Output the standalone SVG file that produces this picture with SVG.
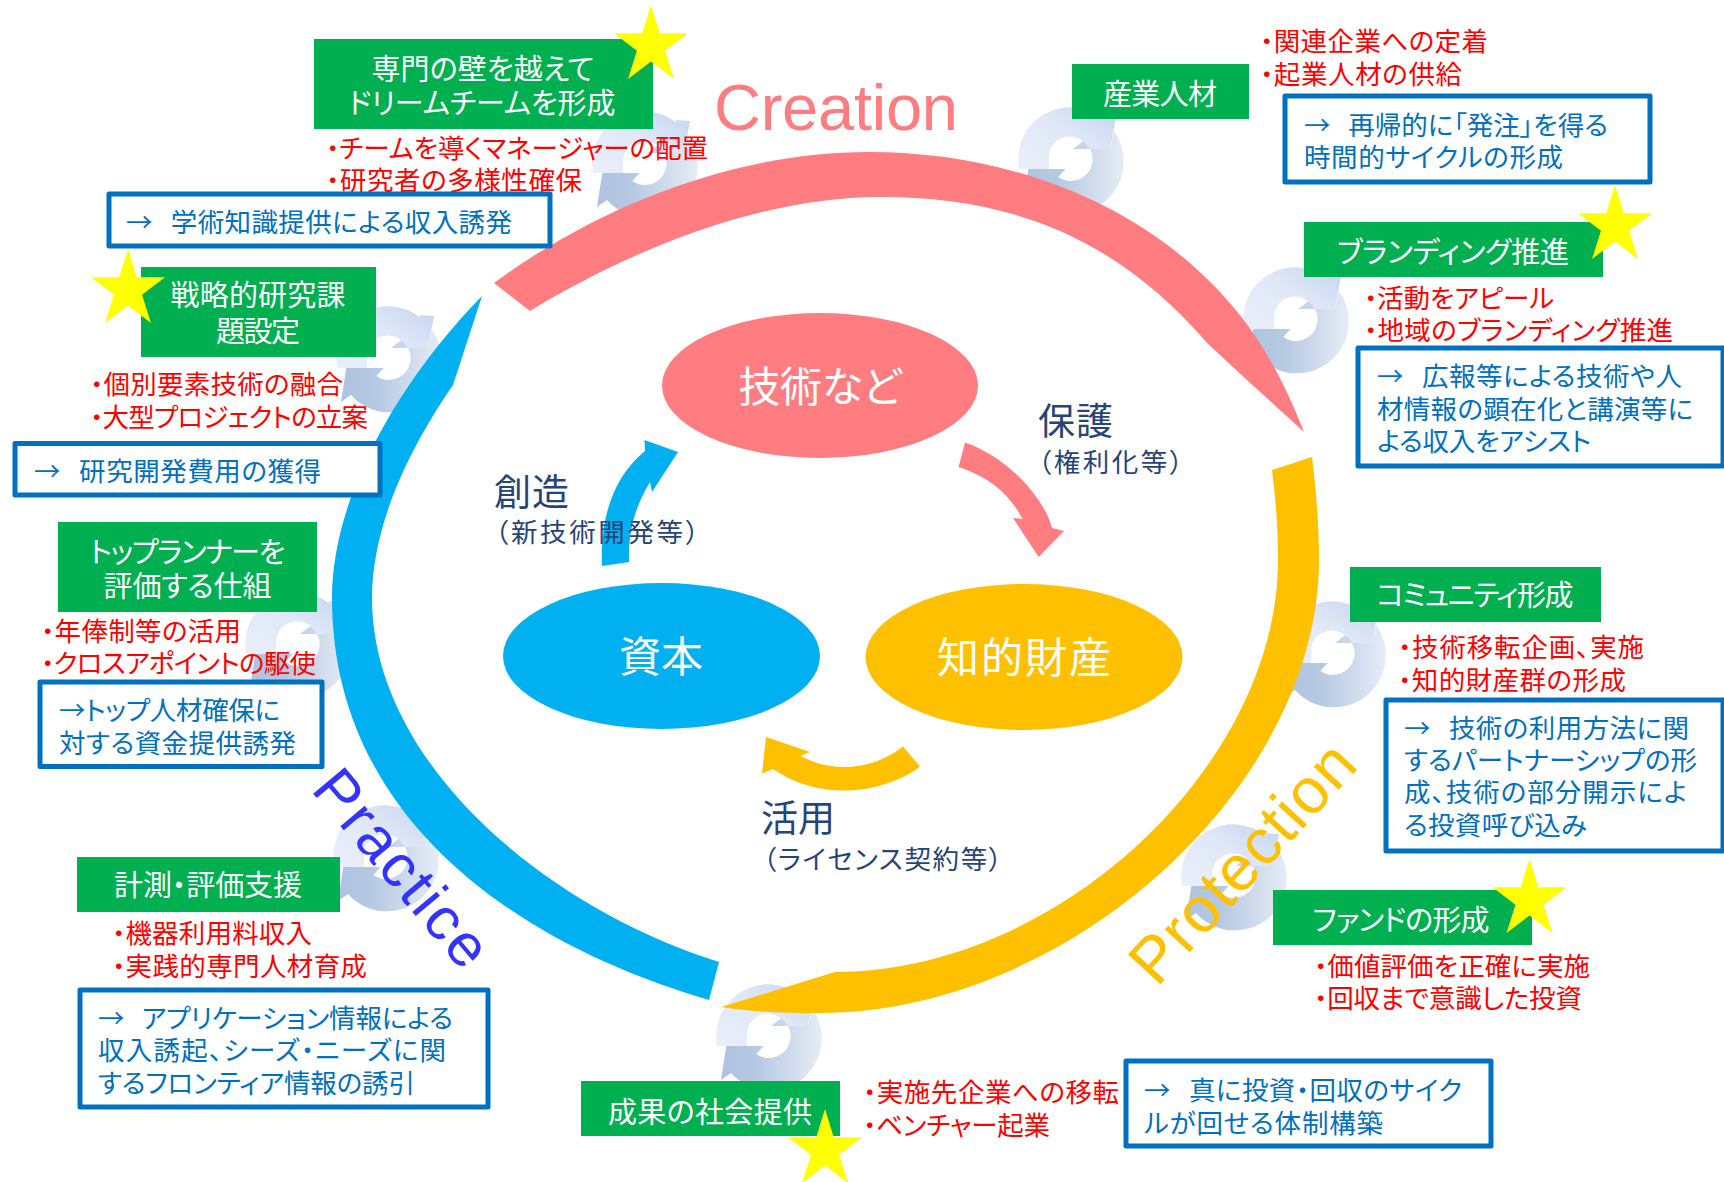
<svg xmlns="http://www.w3.org/2000/svg" width="1724" height="1182" viewBox="0 0 1724 1182">
<style>
text{font-family:"Noto Sans CJK JP","Noto Sans",sans-serif;font-feature-settings:"palt";dominant-baseline:central}
text:not(.w){transform:translateY(-2px)}
.g{fill:#fff;font-size:29px;text-anchor:middle}
.r{fill:#f00;font-size:26.5px}
.b{fill:#0070C0;font-size:26.5px}
.n{fill:#264478;font-size:37px}
.s{fill:#264478;font-size:26.5px}
.e{fill:#fff;font-size:42px;text-anchor:middle}
.gb{fill:#00B050}
.bb{fill:#fff;stroke:#0070C0;stroke-width:5;stroke-linejoin:round}
.st{fill:#FFFF00}
.w{font-family:"Liberation Sans",Arial,sans-serif;dominant-baseline:alphabetic}
</style>
<defs>
<linearGradient id="gu" x1="0" y1="1" x2="1" y2="0"><stop offset="0" stop-color="#E9EFFA"/><stop offset=".55" stop-color="#E0E8F7"/><stop offset="1" stop-color="#C3D4EF"/></linearGradient>
<linearGradient id="gl" x1="0" y1="0" x2="1" y2="0"><stop offset="0" stop-color="#AEC3E0"/><stop offset=".35" stop-color="#B6C9E3"/><stop offset="1" stop-color="#E6ECF5"/></linearGradient>
<g id="swirl">
<path fill="url(#gu)" d="M-51,10A52,52 0 0 1 33,-40L31,-43L46,-42L40,-10L3.3,-10L13.3,-17.7A21,21 0 0 0 -21,0L-21,10Z"/>
<path fill="url(#gl)" d="M-41.7,10L-4.3,10L-11.7,18A21,21 0 0 0 13.3,-17.7L3.3,-10L40,-10L44,-28A52,52 0 0 1 -37,37L-47,44Z"/>
</g>
<polygon id="star" class="st" points="50,0 61.8,38.2 100,38.2 69,61.8 81,100 50,76.4 19,100 31,61.8 0,38.2 38.2,38.2"/>
</defs>
<rect width="1724" height="1182" fill="#fff"/>
<g id="swirls">
<use href="#swirl" x="644" y="163"/>
<use href="#swirl" x="1070" y="159"/>
<use href="#swirl" x="1295" y="319"/>
<use href="#swirl" x="388" y="358"/>
<use href="#swirl" x="297" y="644"/>
<use href="#swirl" x="1332" y="653"/>
<use href="#swirl" x="1233" y="876"/>
<use href="#swirl" x="768" y="1036"/>
<use href="#swirl" x="385" y="857"/>
</g>
<g id="connectors">
<path id="arc-creation" fill="#FF7C80" d="M494,283C600,205 735,152 869,152C1020,152 1165,212 1249,327Q1280,370 1304,432L1247,380L1207,343C1110,230 1000,197 880,197C760,197 630,250 530,311Z"/>
<path id="arc-protection" fill="#FFC000" d="M1272,470L1312,457C1316,490 1319,525 1319,560C1319,786 1069,1013 819,1013C785,1013 750,1012 721,1007L835,972C1056.500,972 1278,766 1278,560C1278,530 1276,500 1272,470Z"/>
<path id="arc-practice" fill="#00B0F0" d="M482,296L453,385C415,440 372,520 372,598C372,760 540,905 719,962L709,1000C520,945 332,820 332,598C332,500 395,385 482,296Z"/>
<path id="arrow-create" fill="#00B0F0" d="M602,566C600,520 612,478 645,451L644.5,440L678,452L652,492L650,482C636,505 628,530 629,562Z"/>
<path id="arrow-protect" fill="#FF7C80" d="M965,442.5C1010,458 1045,500 1052,528L1064,531L1038.6,557L1013,518L1022.6,519C1010,495 990,477 958.6,467Z"/>
<path id="arrow-use" fill="#FFC000" d="M903,746.5L920,766.5C890,790 825,805 773,769L762,773.5L766,737L810,752L800.6,756C830,772 870,772 903,746.5Z"/>
</g>
<g id="center-gijutsu"><ellipse cx="820" cy="385.5" rx="158" ry="72.5" fill="#FF7C80"/><text class="e" x="820" y="385" textLength="163">技術など</text></g>
<g id="center-shihon"><ellipse cx="661.5" cy="656" rx="158.5" ry="73" fill="#00B0F0"/><text class="e" x="661" y="655">資本</text></g>
<g id="center-chizai"><ellipse cx="1024" cy="657" rx="158.5" ry="73" fill="#FFC000"/><text class="e" x="1024" y="656" textLength="174">知的財産</text></g>
<g id="label-sozo"><text class="n" x="494" y="492" textLength="75">創造</text><text class="s" x="495" y="532" textLength="204">（新技術開発等）</text></g>
<g id="label-hogo"><text class="n" x="1038" y="421" textLength="75">保護</text><text class="s" x="1038" y="462" textLength="145">（権利化等）</text></g>
<g id="label-katsuyo"><text class="n" x="761" y="817.5" textLength="74">活用</text><text class="s" x="763" y="859" textLength="239">（ライセンス契約等）</text></g>
<text id="t-creation" class="w" x="714" y="130" font-size="65" fill="#FF7C80" textLength="244">Creation</text>
<text id="t-protection" class="w" transform="translate(1157,988) rotate(-47.5)" font-size="64" fill="#FFC000" textLength="300">Protection</text>
<text id="t-practice" class="w" transform="translate(310,790) rotate(50)" font-size="60" fill="#3333FF" textLength="238">Practice</text>

<g id="node-senmon">
<rect class="gb" x="314" y="39" width="339" height="90"/>
<text class="g" x="483" y="69" textLength="223">専門の壁を越えて</text>
<text class="g" x="482" y="103" textLength="267">ドリームチームを形成</text>
<use href="#star" transform="translate(614,5) scale(.74)"/>
<text class="r" x="326" y="148" textLength="382">・チームを導くマネージャーの配置</text>
<text class="r" x="326" y="180" textLength="256">・研究者の多様性確保</text>
<rect class="bb" x="109" y="194" width="441" height="52"/>
<text class="b" x="126" y="222" textLength="386">→<tspan dx="-9">　学術知識提供による収入誘発</tspan></text>
</g>
<g id="node-sangyo">
<rect class="gb" x="1072" y="64" width="177" height="55"/>
<text class="g" x="1160" y="94" textLength="114">産業人材</text>
<text class="r" x="1260" y="41" textLength="228">・関連企業への定着</text>
<text class="r" x="1260" y="74" textLength="202">・起業人材の供給</text>
<rect class="bb" x="1285" y="96" width="365" height="86"/>
<text class="b" x="1304" y="125" textLength="304">→<tspan dx="-9">　再帰的に「発注」を得る</tspan></text>
<text class="b" x="1304" y="157" textLength="259">時間的サイクルの形成</text>
</g>
<g id="node-branding">
<rect class="gb" x="1304" y="222" width="299" height="55"/>
<text class="g" x="1453" y="252" textLength="232">ブランディング推進</text>
<use href="#star" transform="translate(1578,185) scale(.74)"/>
<text class="r" x="1364" y="298" textLength="190">・活動をアピール</text>
<text class="r" x="1364" y="330" textLength="309">・地域のブランディング推進</text>
<rect class="bb" x="1358" y="348" width="365" height="118"/>
<text class="b" x="1377" y="376" textLength="305">→<tspan dx="-9">　広報等による技術や人</tspan></text>
<text class="b" x="1377" y="409" textLength="316">材情報の顕在化と講演等に</text>
<text class="b" x="1377" y="441" textLength="214">よる収入をアシスト</text>
</g>
<g id="node-community">
<rect class="gb" x="1350" y="567" width="251" height="55"/>
<text class="g" x="1475" y="595" textLength="197">コミュニティ形成</text>
<text class="r" x="1398" y="647" textLength="246">・技術移転企画、実施</text>
<text class="r" x="1398" y="680" textLength="228">・知的財産群の形成</text>
<rect class="bb" x="1386" y="700" width="337" height="151"/>
<text class="b" x="1404" y="728" textLength="285">→<tspan dx="-9">　技術の利用方法に関</tspan></text>
<text class="b" x="1404" y="760" textLength="293">するパートナーシップの形</text>
<text class="b" x="1404" y="792" textLength="283">成、技術の部分開示によ</text>
<text class="b" x="1404" y="825" textLength="183">る投資呼び込み</text>
</g>
<g id="node-fund">
<rect class="gb" x="1273" y="890" width="259" height="55"/>
<text class="g" x="1401" y="920" textLength="177">ファンドの形成</text>
<use href="#star" transform="translate(1492.500,859) scale(.74)"/>
<text class="r" x="1314" y="966" textLength="276">・価値評価を正確に実施</text>
<text class="r" x="1314" y="998" textLength="268">・回収まで意識した投資</text>
</g>
<g id="node-social">
<rect class="gb" x="581" y="1081" width="259" height="55"/>
<text class="g" x="710" y="1112" textLength="204">成果の社会提供</text>
<use href="#star" transform="translate(788,1109) scale(.74)"/>
<text class="r" x="863" y="1092" textLength="256">・実施先企業への移転</text>
<text class="r" x="863" y="1125" textLength="187">・ベンチャー起業</text>
<rect class="bb" x="1126" y="1061" width="365" height="85"/>
<text class="b" x="1144" y="1090" textLength="318">→<tspan dx="-9">　真に投資・回収のサイク</tspan></text>
<text class="b" x="1144" y="1123" textLength="239">ルが回せる体制構築</text>
</g>
<g id="node-keisoku">
<rect class="gb" x="77" y="857" width="263" height="55"/>
<text class="g" x="208" y="885" textLength="188">計測・評価支援</text>
<text class="r" x="112" y="933" textLength="200">・機器利用料収入</text>
<text class="r" x="112" y="966" textLength="255">・実践的専門人材育成</text>
<rect class="bb" x="80" y="990" width="408" height="117"/>
<text class="b" x="98" y="1018" textLength="355">→<tspan dx="-9">　アプリケーション情報による</tspan></text>
<text class="b" x="98" y="1050" textLength="348">収入誘起、シーズ・ニーズに関</text>
<text class="b" x="98" y="1083" textLength="317">するフロンティア情報の誘引</text>
</g>
<g id="node-toprunner">
<rect class="gb" x="58" y="522" width="259" height="90"/>
<text class="g" x="187.500" y="551.500" textLength="196">トップランナーを</text>
<text class="g" x="187.500" y="586" textLength="168">評価する仕組</text>
<text class="r" x="41" y="631.500" textLength="200">・年俸制等の活用</text>
<text class="r" x="41" y="663.500" textLength="275">・クロスアポイントの駆使</text>
<rect class="bb" x="40" y="682" width="282" height="84.500"/>
<text class="b" x="59" y="710" textLength="221">→トップ人材確保に</text>
<text class="b" x="59" y="743" textLength="237">対する資金提供誘発</text>
</g>
<g id="node-senryaku">
<rect class="gb" x="141" y="267" width="235" height="90"/>
<text class="g" x="258" y="295" textLength="175">戦略的研究課</text>
<text class="g" x="258" y="331" textLength="84">題設定</text>
<use href="#star" transform="translate(91,249) scale(.74)"/>
<text class="r" x="90" y="384.500" textLength="253">・個別要素技術の融合</text>
<text class="r" x="90" y="417" textLength="278">・大型プロジェクトの立案</text>
<rect class="bb" x="15" y="443.500" width="365" height="51.500"/>
<text class="b" x="34" y="471" textLength="287">→<tspan dx="-9">　研究開発費用の獲得</tspan></text>
</g>
</svg>
